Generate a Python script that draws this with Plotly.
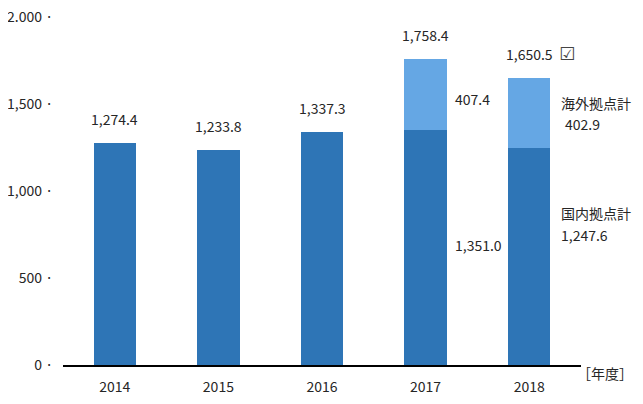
import plotly.graph_objects as go

years = ["2014", "2015", "2016", "2017", "2018"]
domestic = [1274.4, 1233.8, 1337.3, 1351.0, 1247.6]
overseas = [None, None, None, 407.4, 402.9]
y_ticks = [0, 500, 1000, 1500, 2000]
y_tick_labels = ["0", "500", "1,000", "1,500", "2.000"]

totals = [d + (o or 0) for d, o in zip(domestic, overseas)]

DARK = "#2E75B6"
LIGHT = "#65A7E4"
TXT = "#262626"
FONT = "Noto Sans CJK JP"

fig = go.Figure()
fig.add_trace(go.Bar(x=years, y=domestic, name="国内拠点計", marker_color=DARK,
                     marker_line_width=0, width=0.41))
fig.add_trace(go.Bar(x=years, y=overseas, name="海外拠点計", marker_color=LIGHT,
                     marker_line_width=0, width=0.41))

# annotations use category index positions (numeric-looking names would be read as numbers)
ann = []
for i, t in enumerate(totals):
    ann.append(dict(x=i, y=t, text=f"{t:,.1f}", showarrow=False, yshift=24))

# 2017 segment values
ann.append(dict(x=3, y=domestic[3] + overseas[3] / 2, text=f"{overseas[3]:,.1f}",
                showarrow=False, xanchor="left", xshift=27, yshift=-5))
ann.append(dict(x=3, y=domestic[3] / 2, text=f"{domestic[3]:,.1f}",
                showarrow=False, xanchor="left", xshift=27, yshift=2))

# 2018 series labels
mid_o = domestic[4] + overseas[4] / 2
ann.append(dict(x=4, y=mid_o, text="海外拠点計", showarrow=False,
                xanchor="left", xshift=30, yshift=10))
ann.append(dict(x=4, y=mid_o, text=f"{overseas[4]:,.1f}", showarrow=False,
                xanchor="left", xshift=34, yshift=-11))
mid_d = domestic[4] / 2
ann.append(dict(x=4, y=mid_d, text="国内拠点計", showarrow=False,
                xanchor="left", xshift=30, yshift=43))
ann.append(dict(x=4, y=mid_d, text=f"{domestic[4]:,.1f}", showarrow=False,
                xanchor="left", xshift=30, yshift=21))

# checkbox mark next to 2018 total
ann.append(dict(x=4, y=totals[4], text="☑", showarrow=False,
                xanchor="left", xshift=28, yshift=24,
                font=dict(family="DejaVu Sans", size=18, color="#444444")))

# unit label
ann.append(dict(x=1, y=0, xref="paper", yref="paper", text="［年度］", showarrow=False,
                xanchor="left", xshift=-6, yshift=-20))

# page body adds ~8px offset, so the figure is drawn 8px smaller and shifted
fig.update_layout(
    width=635, height=396,
    margin=dict(l=55, r=62, t=9, b=39),
    barmode="stack",
    showlegend=False,
    plot_bgcolor="white", paper_bgcolor="white",
    font=dict(family=FONT, size=14, color=TXT),
    annotations=ann,
    xaxis=dict(type="category", range=[-0.5, 4.5], automargin=False, showline=True,
               linecolor="black", linewidth=2, showgrid=False, ticks="",
               ticklabelstandoff=8, tickfont=dict(size=14, color=TXT)),
    yaxis=dict(range=[0, 2000], tickvals=y_ticks, automargin=False,
               ticktext=[f"{s} ·" for s in y_tick_labels],
               ticklabeloverflow="allow",
               showgrid=False, zeroline=False, showline=False, ticks="",
               ticklabelstandoff=9, tickfont=dict(size=14, color=TXT)),
)

fig.write_html("out.html")
